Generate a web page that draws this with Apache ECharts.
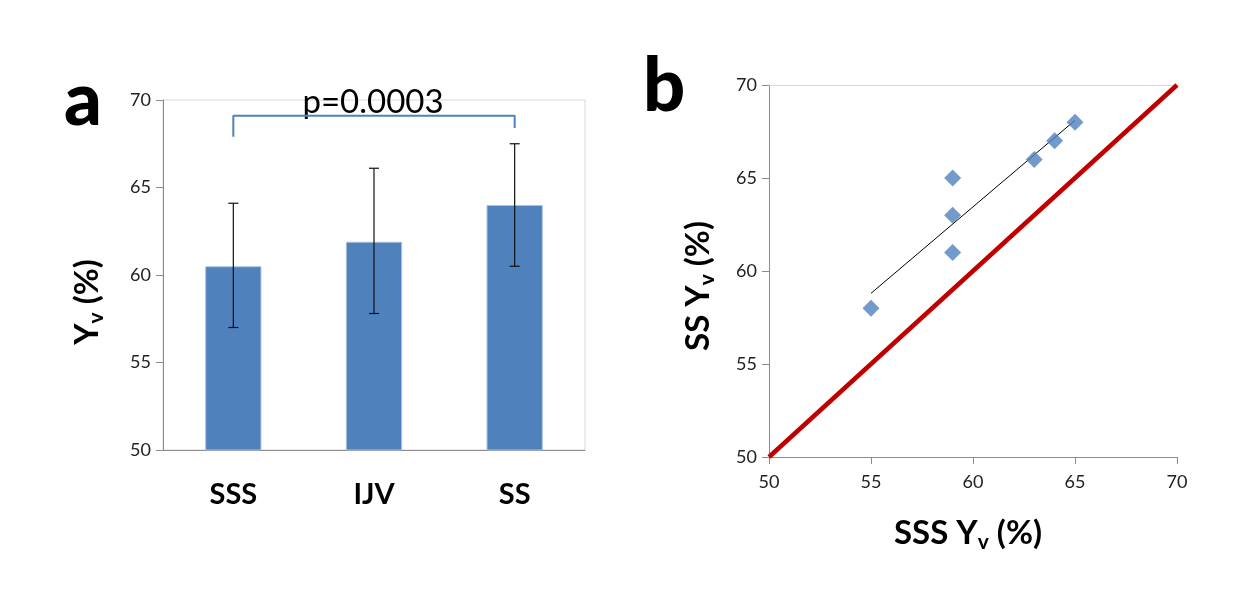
<!DOCTYPE html>
<html>
<head>
<meta charset="utf-8">
<script src="https://cdn.jsdelivr.net/npm/echarts@6/dist/echarts.min.js"></script>
<style>
  html, body { margin: 0; padding: 0; background: #fff; }
  #main { width: 1254px; height: 604px; }
</style>
</head>
<body>
<div id="main"></div>
<script>
var chart = echarts.init(document.getElementById('main'));

/* panel a: mean Yv with error bars */
var groups = ['SSS', 'IJV', 'SS'];
var means = [60.5, 61.9, 64.0];
var errLow = [57.0, 57.8, 60.5];
var errHigh = [64.1, 66.1, 67.5];
// bracket for the p value: [category index, value]
var bracket = [[0, 67.9], [0, 69.1], [2, 69.1], [2, 68.4]];
var pText = 'p=0.0003';

/* panel b: SSS vs SS */
var sssYv = [55, 59, 59, 59, 63, 64, 65];
var ssYv = [58, 65, 63, 61, 66, 67, 68];
var trendEnds = [[55, 58.8], [65, 68.1]];
var identity = [[50, 50], [70, 70]];

var blue = '#4f81bd';
var fontFam = 'Lato, "Open Sans", sans-serif';
var tickLabel = { color: '#222', fontSize: 18, fontFamily: fontFam };
var titleRich = {
    sub: { fontSize: 21, fontWeight: 'bold', fontFamily: fontFam, verticalAlign: 'bottom', padding: [18, 0, 0, 0] }
};

function titleStyle(shift) {
    return {
        fontSize: 33, fontWeight: 'bold', color: '#000', fontFamily: fontFam,
        rich: titleRich, padding: [0, shift, 0, 0]
    };
}

var errData = [];
for (var i = 0; i < groups.length; i++) {
    errData.push([i, errLow[i], errHigh[i]]);
}

var scatterData = [];
for (var j = 0; j < sssYv.length; j++) {
    scatterData.push([sssYv[j], ssYv[j]]);
}

function renderError(params, api) {
    var lo = api.coord([api.value(0), api.value(1)]);
    var hi = api.coord([api.value(0), api.value(2)]);
    var cap = 5;
    var st = { stroke: '#111', lineWidth: 1.2 };
    return {
        type: 'group',
        children: [
            { type: 'line', shape: { x1: lo[0], y1: lo[1], x2: hi[0], y2: hi[1] }, style: st },
            { type: 'line', shape: { x1: lo[0] - cap, y1: lo[1], x2: lo[0] + cap, y2: lo[1] }, style: st },
            { type: 'line', shape: { x1: hi[0] - cap, y1: hi[1], x2: hi[0] + cap, y2: hi[1] }, style: st }
        ]
    };
}

var option = {
    backgroundColor: '#fff',
    animation: false,
    grid: [
        { left: 163, top: 100, width: 422, height: 350, show: true, borderColor: '#d9d9d9', borderWidth: 1 },
        { left: 769, top: 85, width: 408, height: 372 }
    ],
    xAxis: [
        {
            gridIndex: 0, type: 'category', data: groups,
            axisLine: { lineStyle: { color: '#8c8c8c' } },
            axisTick: { length: 10, lineStyle: { color: '#8c8c8c' } },
            axisLabel: { color: '#000', fontSize: 29, fontWeight: 'bold', fontFamily: fontFam, margin: 30 }
        },
        {
            gridIndex: 1, type: 'value', min: 50, max: 70, interval: 5,
            axisLine: { lineStyle: { color: '#8c8c8c' } },
            axisTick: { show: true, length: 7, lineStyle: { color: '#8c8c8c' } },
            axisLabel: Object.assign({ margin: 16 }, tickLabel),
            splitLine: { show: false },
            name: 'SSS Y{sub|v} (%)', nameLocation: 'middle', nameGap: 57,
            nameTextStyle: titleStyle(10)
        },
        {
            gridIndex: 1, type: 'value', position: 'top', min: 50, max: 70,
            axisLine: { show: true, lineStyle: { color: '#d9d9d9' } },
            axisTick: { show: false }, axisLabel: { show: false }, splitLine: { show: false }
        }
    ],
    yAxis: [
        {
            gridIndex: 0, type: 'value', min: 50, max: 70, interval: 5,
            axisLine: { show: true, lineStyle: { color: '#8c8c8c' } },
            axisTick: { show: true, length: 7, lineStyle: { color: '#8c8c8c' } },
            axisLabel: Object.assign({ margin: 12 }, tickLabel),
            splitLine: { show: false },
            name: 'Y{sub|v} (%)', nameLocation: 'middle', nameGap: 56,
            nameTextStyle: titleStyle(54)
        },
        {
            gridIndex: 1, type: 'value', min: 50, max: 70, interval: 5,
            axisLine: { show: true, lineStyle: { color: '#8c8c8c' } },
            axisTick: { show: true, length: 7, lineStyle: { color: '#8c8c8c' } },
            axisLabel: Object.assign({ margin: 12 }, tickLabel),
            splitLine: { show: false },
            name: 'SS Y{sub|v} (%)', nameLocation: 'middle', nameGap: 51,
            nameTextStyle: titleStyle(30)
        }
    ],
    series: [
        {
            type: 'bar', xAxisIndex: 0, yAxisIndex: 0, data: means, barWidth: '40%',
            itemStyle: { color: blue, borderColor: '#a9c0e0', borderWidth: 1 }
        },
        {
            type: 'custom', xAxisIndex: 0, yAxisIndex: 0, data: errData,
            renderItem: renderError, z: 5
        },
        {
            type: 'line', xAxisIndex: 0, yAxisIndex: 0, data: bracket,
            symbol: 'none', lineStyle: { color: blue, width: 2 }, z: 4
        },
        {
            type: 'line', xAxisIndex: 1, yAxisIndex: 1, data: identity,
            symbol: 'none', lineStyle: { color: '#c00000', width: 4.5 }, z: 2
        },
        {
            type: 'line', xAxisIndex: 1, yAxisIndex: 1, data: trendEnds,
            symbol: 'none', lineStyle: { color: '#000', width: 1 }, z: 3
        },
        {
            type: 'scatter', xAxisIndex: 1, yAxisIndex: 1, data: scatterData,
            symbol: 'diamond', symbolSize: 17, itemStyle: { color: blue }, z: 4
        }
    ],
    graphic: [
        { type: 'text', left: 64, top: 64, style: { text: 'a', fontSize: 74, fontWeight: 900, fill: '#000', fontFamily: fontFam } },
        { type: 'text', left: 643, top: 50, style: { text: 'b', fontSize: 74, fontWeight: 900, fill: '#000', fontFamily: fontFam } },
        { type: 'text', x: 373, y: 102, style: { text: pText, fontSize: 33, fill: '#000', fontFamily: fontFam, align: 'center', verticalAlign: 'middle' } }
    ]
};

chart.setOption(option);
</script>
</body>
</html>
